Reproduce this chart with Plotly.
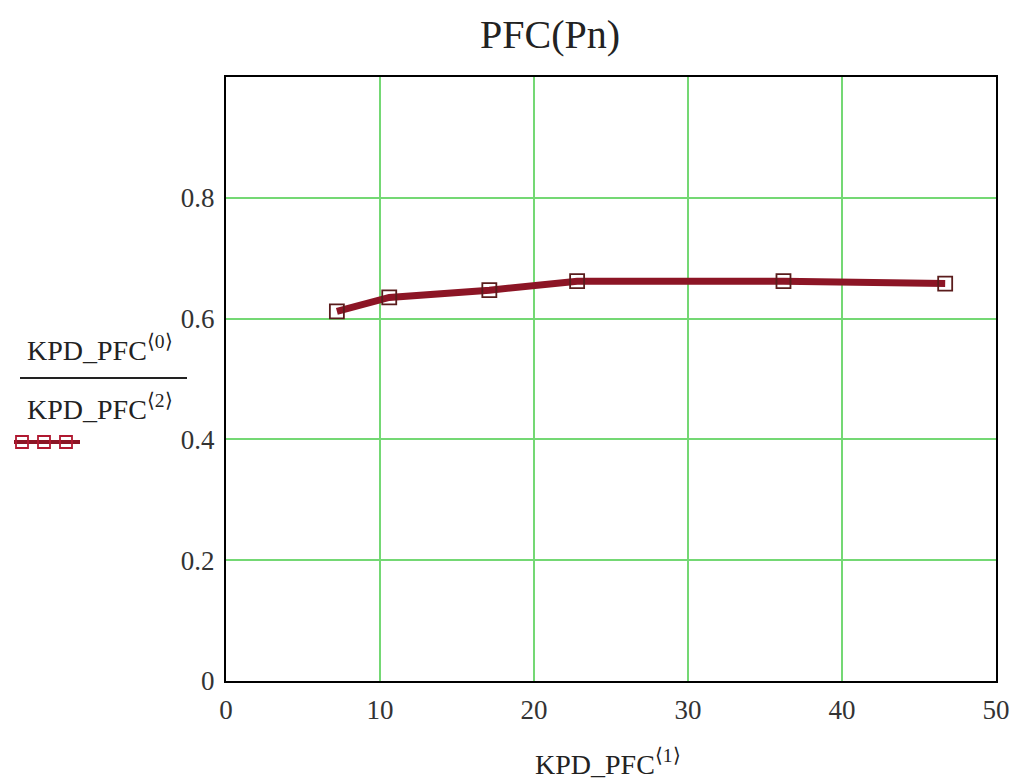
import plotly.graph_objects as go

# Efficiency of the PFC stage versus output power
p_out = [7.2, 10.6, 17.1, 22.8, 36.2, 46.7]
kpd = [0.612, 0.635, 0.647, 0.662, 0.662, 0.658]

x_ticks = [0, 10, 20, 30, 40, 50]
y_ticks = [0, 0.2, 0.4, 0.6, 0.8]
y_tick_text = ["0", "0.2", "0.4", "0.6", "0.8"]

LINE = "#8c1525"
MARK = "#5a1c1c"
GRID = "#74d874"
FONT = "Liberation Serif"

# plot area in pixels
L, R, T, B = 226, 996, 77, 681
W, H = 1024, 784

fig = go.Figure()
fig.add_trace(go.Scatter(
    x=p_out, y=kpd, mode="lines",
    line=dict(color=LINE, width=7), showlegend=False, hoverinfo="skip",
))
fig.add_trace(go.Scatter(
    x=p_out, y=kpd, mode="markers",
    marker=dict(symbol="square-open", size=14, color=MARK, line=dict(width=1.8, color=MARK)),
    showlegend=False,
))

fig.update_layout(
    width=W, height=H,
    margin=dict(l=L, r=W - R, t=T, b=H - B),
    paper_bgcolor="white", plot_bgcolor="white",
    font=dict(family=FONT, color="#222", size=26),
    title=dict(text="PFC(Pn)", x=550 / W, xanchor="center", y=1 - 34 / H, yanchor="middle",
               font=dict(size=40, family=FONT, color="#222")),
)
fig.update_xaxes(
    range=[0, 50], tickvals=x_ticks, ticktext=[str(v) for v in x_ticks],
    showgrid=True, gridcolor=GRID, gridwidth=2,
    showline=True, linecolor="black", linewidth=2, mirror=True,
    zeroline=False, ticks="", ticklabelstandoff=4,
    tickfont=dict(size=27, family=FONT, color="#333"),
)
fig.update_yaxes(
    range=[0, 1], tickvals=y_ticks, ticktext=y_tick_text,
    showgrid=True, gridcolor=GRID, gridwidth=2,
    showline=True, linecolor="black", linewidth=2, mirror=True,
    zeroline=False, ticks="", ticklabelstandoff=4,
    tickfont=dict(size=27, family=FONT, color="#333"),
)


def px(xp):
    return (xp - L) / (R - L)


def py(yp):
    return (B - yp) / (B - T)


# Axis captions written as Mathcad-style expressions
anns = [
    dict(text="KPD_PFC<sup>⟨1⟩</sup>", x=px(533), y=py(762), xanchor="left", yanchor="middle"),
    dict(text="KPD_PFC<sup>⟨0⟩</sup>", x=px(25), y=py(348), xanchor="left", yanchor="middle"),
    dict(text="KPD_PFC<sup>⟨2⟩</sup>", x=px(25), y=py(407), xanchor="left", yanchor="middle"),
]
for a in anns:
    fig.add_annotation(xref="paper", yref="paper", showarrow=False,
                       font=dict(size=28, family=FONT, color="#222"), **a)

fig.add_shape(type="line", xref="paper", yref="paper",
              x0=px(20), x1=px(187), y0=py(378), y1=py(378),
              line=dict(color="#222", width=2))

# legend swatch: line with three square markers
fig.add_shape(type="line", xref="paper", yref="paper",
              x0=px(14), x1=px(80), y0=py(442), y1=py(442),
              line=dict(color=LINE, width=4))
for cx in (22, 44, 66):
    fig.add_shape(type="rect", xref="paper", yref="paper",
                  x0=px(cx - 6), x1=px(cx + 6), y0=py(448), y1=py(436),
                  line=dict(color="#b01830", width=1.8), fillcolor="rgba(0,0,0,0)")

fig.write_html("out.html")
